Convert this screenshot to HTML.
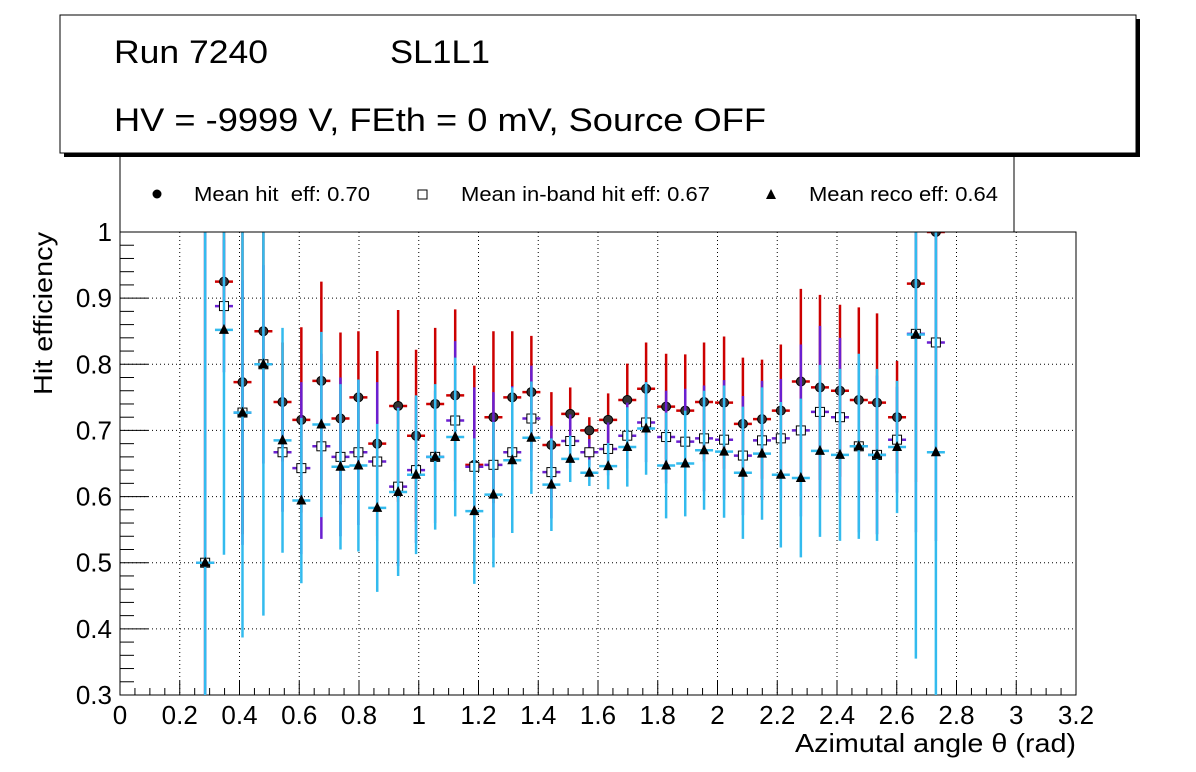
<!DOCTYPE html>
<html><head><meta charset="utf-8"><style>
body{margin:0;background:#fff;}
svg{display:block;font-family:"Liberation Sans",sans-serif;}
</style></head><body>
<svg id="c" width="1196" height="772">
<rect x="0" y="0" width="1196" height="772" fill="#fff"/>
<g id="grid"></g>
<g id="axes"></g>
<g id="marks"></g>
<g>
<rect x="120" y="150" width="894" height="82" fill="#fff" stroke="#000" stroke-width="1"/>
<circle cx="157" cy="194" r="4.5" fill="#000"/>
<text x="194" y="201" font-size="20" xml:space="preserve" textLength="176" lengthAdjust="spacingAndGlyphs">Mean hit  eff: 0.70</text>
<rect x="418" y="190" width="9" height="9" fill="#fff" stroke="#000"/>
<text x="461" y="201" font-size="20" textLength="249" lengthAdjust="spacingAndGlyphs">Mean in-band hit eff: 0.67</text>
<polygon points="771,189 766,199 776,199" fill="#000"/>
<text x="809" y="201" font-size="20" textLength="189" lengthAdjust="spacingAndGlyphs">Mean reco eff: 0.64</text>
</g>
<g>
<rect x="64" y="19" width="1076" height="138" fill="#000"/>
<rect x="60" y="15" width="1076" height="138" fill="#fff" stroke="#000" stroke-width="1"/>
<text x="114" y="63" font-size="32" textLength="154" lengthAdjust="spacingAndGlyphs">Run 7240</text>
<text x="390" y="63" font-size="32" textLength="100" lengthAdjust="spacingAndGlyphs">SL1L1</text>
<text x="114" y="131" font-size="32" textLength="652" lengthAdjust="spacingAndGlyphs">HV = -9999 V, FEth = 0 mV, Source OFF</text>
</g>
<text x="795" y="752" font-size="26" textLength="281" lengthAdjust="spacingAndGlyphs">Azimutal angle θ (rad)</text>
<text transform="translate(52,395) rotate(-90)" font-size="26" textLength="163" lengthAdjust="spacingAndGlyphs">Hit efficiency</text>
</svg>
<script>
const xs=[0.285,0.348,0.41,0.48,0.544,0.607,0.674,0.738,0.798,0.861,0.931,0.991,1.055,1.122,1.186,1.25,1.313,1.377,1.444,1.507,1.571,1.634,1.698,1.761,1.828,1.892,1.955,2.022,2.085,2.149,2.212,2.279,2.343,2.41,2.473,2.534,2.601,2.664,2.731];
const hitEff=[0.5,0.925,0.773,0.85,0.743,0.716,0.775,0.718,0.75,0.68,0.737,0.692,0.74,0.753,0.648,0.72,0.75,0.758,0.678,0.725,0.70,0.716,0.746,0.763,0.736,0.73,0.743,0.742,0.71,0.717,0.73,0.774,0.765,0.76,0.746,0.742,0.72,0.922,1.0];
const hitErr=[0.5,0.08,0.23,0.15,0.09,0.14,0.15,0.13,0.10,0.14,0.145,0.13,0.115,0.13,0.15,0.13,0.10,0.085,0.08,0.04,0.02,0.04,0.055,0.07,0.08,0.085,0.09,0.10,0.10,0.09,0.10,0.14,0.14,0.13,0.14,0.135,0.085,0.3,0.3];
const inEff=[0.5,0.888,0.727,0.80,0.667,0.643,0.676,0.66,0.667,0.653,0.615,0.64,0.66,0.715,0.645,0.648,0.667,0.718,0.637,0.684,0.667,0.672,0.692,0.712,0.69,0.683,0.688,0.686,0.662,0.685,0.688,0.70,0.728,0.72,0.676,0.663,0.686,0.846,0.833];
const inErr=[0.5,0.1,0.2,0.15,0.09,0.13,0.14,0.12,0.11,0.12,0.12,0.11,0.1,0.12,0.12,0.11,0.1,0.08,0.07,0.04,0.02,0.04,0.05,0.06,0.07,0.08,0.08,0.09,0.09,0.09,0.09,0.13,0.13,0.12,0.13,0.12,0.08,0.3,0.3];
const recoEff=[0.5,0.852,0.727,0.80,0.685,0.594,0.709,0.645,0.647,0.583,0.607,0.633,0.66,0.69,0.578,0.603,0.655,0.689,0.618,0.657,0.636,0.646,0.675,0.703,0.647,0.65,0.67,0.668,0.636,0.665,0.633,0.628,0.669,0.663,0.676,0.663,0.675,0.845,0.667];
const recoErr=[0.5,0.34,0.34,0.38,0.17,0.125,0.14,0.125,0.13,0.127,0.127,0.12,0.11,0.12,0.11,0.11,0.11,0.085,0.07,0.035,0.02,0.035,0.06,0.07,0.08,0.08,0.09,0.1,0.1,0.1,0.11,0.12,0.13,0.13,0.14,0.13,0.1,0.49,0.37];
const xTicks=[0,0.2,0.4,0.6,0.8,1,1.2,1.4,1.6,1.8,2,2.2,2.4,2.6,2.8,3,3.2];
const yTicks=[0.3,0.4,0.5,0.6,0.7,0.8,0.9,1];

const X0=120,X1=1076,Y0=695,Y1=232;
const sx=v=>X0+(v-0)/3.2*(X1-X0);
const sy=v=>Y0-(v-0.3)/0.7*(Y0-Y1);
const NS='http://www.w3.org/2000/svg';
function mk(parent,tag,attrs){const e=document.createElementNS(NS,tag);for(const k in attrs)e.setAttribute(k,attrs[k]);parent.appendChild(e);return e;}
const grid=document.getElementById('grid'),axes=document.getElementById('axes'),marks=document.getElementById('marks');
xTicks.forEach((t,i)=>{
  const x=sx(t);
  if(i>0&&i<xTicks.length-1){const g=mk(grid,'line',{x1:x,x2:x,y1:Y1,y2:Y0,stroke:'#000','stroke-width':1,'stroke-dasharray':'1,3'});
  
  }
  mk(axes,'line',{x1:x,x2:x,y1:Y0,y2:Y0-14,stroke:'#000'});
  if(i<xTicks.length-1)for(let k=1;k<4;k++){const xm=sx(t+k*0.05);mk(axes,'line',{x1:xm,x2:xm,y1:Y0,y2:Y0-7,stroke:'#000'});}
  const tx=mk(axes,'text',{x:x,y:Y0+29,'font-size':26,'text-anchor':'middle'});tx.textContent=String(t);
  
  
});
yTicks.forEach((t,i)=>{
  const y=sy(t);
  if(i>0&&i<yTicks.length-1){const g=mk(grid,'line',{x1:X0,x2:X1,y1:y,y2:y,stroke:'#000','stroke-width':1,'stroke-dasharray':'1,3'});
  
  }
  mk(axes,'line',{x1:X0,x2:X0+28,y1:y,y2:y,stroke:'#000'});
  if(i<yTicks.length-1)for(let k=1;k<5;k++){const ym=sy(t+k*0.02);mk(axes,'line',{x1:X0,x2:X0+14,y1:ym,y2:ym,stroke:'#000'});}
  const tx=mk(axes,'text',{x:X0-8,y:y+9,'font-size':26,'text-anchor':'end'});tx.textContent=String(t);
  
  
});
mk(axes,'rect',{x:X0,y:Y1,width:X1-X0,height:Y0-Y1,fill:'none',stroke:'#000'});
const clip=v=>Math.max(Y1,Math.min(Y0,v));
function series(eff,err,col,dx,name,shape){
  const g=mk(marks,'g',{});
  
  
  xs.forEach((xv,i)=>{
    const x=sx(xv)+dx,y=sy(eff[i]);
    mk(g,'line',{x1:x,x2:x,y1:clip(sy(eff[i]+err[i])),y2:clip(sy(eff[i]-err[i])),stroke:col,'stroke-width':2.5});
    mk(g,'line',{x1:x-9,x2:x+9,y1:y,y2:y,stroke:col,'stroke-width':2.5});
  });
  xs.forEach((xv,i)=>{
    const x=sx(xv)+dx,y=sy(eff[i]);let m;
    if(y<Y1-1)return;
    if(shape==='c')m=mk(g,'circle',{cx:x,cy:y,r:4.5,fill:'#333',stroke:'#000'});
    else if(shape==='s')m=mk(g,'rect',{x:x-4.5,y:y-4.5,width:9,height:9,fill:'#fff',stroke:'#000'});
    else m=mk(g,'polygon',{points:`${x},${y-6} ${x-5},${y+4} ${x+5},${y+4}`,fill:'#000'});
    
    
  });
}
series(hitEff,hitErr,'#cc0000',0,'hit-eff','c');
series(inEff,inErr,'#6a1fd0',0,'inband-eff','s');
series(recoEff,recoErr,'#33bbee',0,'reco-eff','t');
</script>
</body></html>
